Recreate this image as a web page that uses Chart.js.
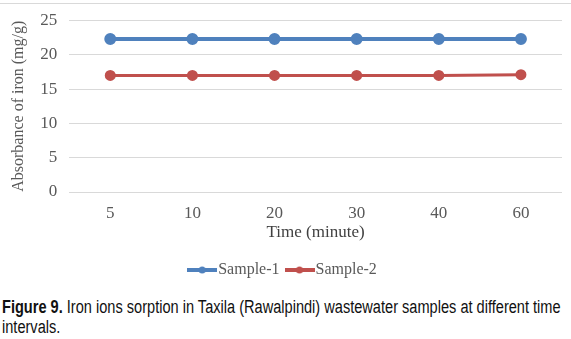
<!DOCTYPE html>
<html>
<head>
<meta charset="utf-8">
<script src="https://cdn.jsdelivr.net/npm/chart.js@4"></script>
<style>
  body { margin: 0; background: #fff; overflow: hidden; }
  #wrap { position: relative; width: 571px; height: 292px; }
  #frame { position: absolute; left: 0; top: 3px; width: 571px; border-top: 1px solid #d9d9d9; }
  #caption {
    font-family: "Liberation Sans Narrow", "Liberation Sans", Arial, sans-serif;
    font-size: 18px; line-height: 20px; color: #111;
    margin: 5px 0 0 2px; width: 700px;
    transform: scaleX(0.81); transform-origin: left top;
  }
</style>
</head>
<body>
<div id="wrap">
  <div id="frame"></div>
  <canvas id="chart" width="571" height="292"></canvas>
</div>
<div id="caption"><b>Figure 9.</b> Iron ions sorption in Taxila (Rawalpindi) wastewater samples at different time<br>intervals.</div>
<script>
// dados do gráfico
const times = ['5', '10', '20', '30', '40', '60'];
const sample1 = [22.3, 22.3, 22.3, 22.3, 22.3, 22.3];
const sample2 = [17.0, 17.0, 17.0, 17.0, 17.0, 17.1];
const yTicks = [0, 5, 10, 15, 20, 25];

const blue = '#4f81bd';
const red = '#c0504d';
const serif = '"Liberation Serif", "Times New Roman", serif';

// ícone da legenda: linha com marcador
function legendIcon(color, lw) {
    const c = document.createElement('canvas');
    c.width = 30; c.height = 10;
    const g = c.getContext('2d');
    g.strokeStyle = color;
    g.lineWidth = lw;
    g.beginPath(); g.moveTo(0, 5); g.lineTo(30, 5); g.stroke();
    g.fillStyle = color;
    g.beginPath(); g.arc(15, 5, 3.5, 0, Math.PI * 2); g.fill();
    return c;
}

const ctx = document.getElementById('chart').getContext('2d');
new Chart(ctx, {
    type: 'line',
    data: {
        labels: times,
        datasets: [{
            label: 'Sample-1',
            data: sample1,
            borderColor: blue,
            backgroundColor: blue,
            borderWidth: 4,
            pointRadius: 4,
            pointHoverRadius: 4,
            icon: legendIcon(blue, 4)
        }, {
            label: 'Sample-2',
            data: sample2,
            borderColor: red,
            backgroundColor: red,
            borderWidth: 3,
            pointRadius: 4,
            pointHoverRadius: 4,
            icon: legendIcon(red, 4)
        }]
    },
    options: {
        responsive: false,
        animation: false,
        layout: { padding: { top: -2, right: 9, left: 9, bottom: 4 } },
        scales: {
            x: {
                offset: true,
                grid: { display: false },
                border: { display: false },
                ticks: { color: '#595959', font: { family: serif, size: 17, lineHeight: 1 }, padding: 5 },
                title: { display: true, text: 'Time (minute)', color: '#404040', font: { family: serif, size: 17, lineHeight: 1 }, padding: { top: -3, bottom: 9 } }
            },
            y: {
                min: 0,
                max: 25,
                afterBuildTicks: axis => { axis.ticks = yTicks.map(v => ({ value: v })); },
                grid: { color: '#d9d9d9', drawTicks: false },
                border: { display: false },
                ticks: { color: '#595959', font: { family: serif, size: 17, lineHeight: 1 }, padding: 12 },
                title: { display: true, text: 'Absorbance of iron (mg/g)', color: '#595959', font: { family: serif, size: 16 }, padding: 0 }
            }
        },
        plugins: {
            legend: {
                position: 'bottom',
                labels: {
                    usePointStyle: true,
                    color: '#595959',
                    font: { family: serif, size: 16 },
                    padding: 12,
                    generateLabels: chart => chart.data.datasets.map((ds, i) => ({
                        text: ds.label,
                        pointStyle: ds.icon,
                        fontColor: '#595959',
                        datasetIndex: i,
                        hidden: false
                    }))
                }
            },
            tooltip: { enabled: false }
        }
    }
});
</script>
</body>
</html>
